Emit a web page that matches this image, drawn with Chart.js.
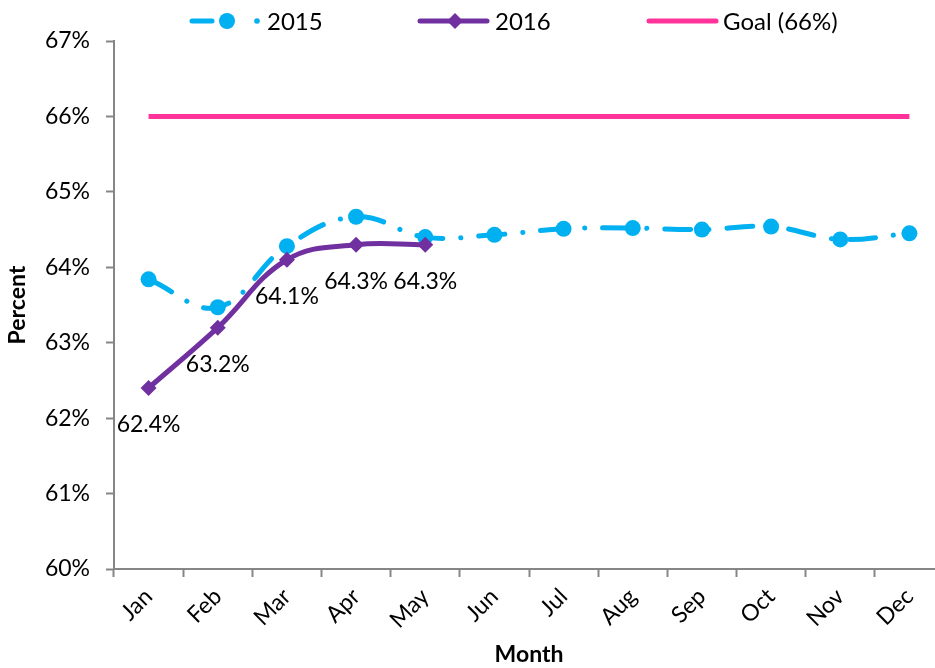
<!DOCTYPE html>
<html>
<head>
<meta charset="utf-8">
<script src="https://cdn.jsdelivr.net/npm/chart.js@4.4.1/dist/chart.umd.min.js"></script>
<style>
  body { margin: 0; background: #fff; overflow: hidden; }
  #wrap { width: 952px; height: 668px; }
</style>
</head>
<body>
<div id="wrap"><canvas id="chart" width="952" height="668"></canvas></div>
<script>
const months = ['Jan', 'Feb', 'Mar', 'Apr', 'May', 'Jun', 'Jul', 'Aug', 'Sep', 'Oct', 'Nov', 'Dec'];
const values2015 = [63.84, 63.47, 64.28, 64.67, 64.40, 64.43, 64.51, 64.52, 64.50, 64.54, 64.37, 64.45];
const values2016 = [62.4, 63.2, 64.1, 64.3, 64.3];
const goalValues = [66, 66, 66, 66, 66, 66, 66, 66, 66, 66, 66, 66];
const yTicks = [60, 61, 62, 63, 64, 65, 66, 67];

const FONT = 'Lato, "Open Sans", sans-serif';
const BLUE = '#00B0F0';
const PURPLE = '#7030A0';
const PINK = '#FF3399';
const AXIS = '#868686';

// value labels under the 2016 points
const labelPlugin = {
    id: 'labels2016',
    afterDatasetsDraw(chart) {
        const ctx = chart.ctx;
        const meta = chart.getDatasetMeta(2);
        ctx.save();
        ctx.font = '23px ' + FONT;
        ctx.fillStyle = '#000';
        ctx.textAlign = 'center';
        ctx.textBaseline = 'middle';
        meta.data.forEach((pt, i) => {
            ctx.fillText(values2016[i].toFixed(1) + '%', pt.x, pt.y + 37);
        });
        ctx.restore();
    }
};

// Excel-like legend: line sample with its marker
const legendPlugin = {
    id: 'lineLegend',
    afterDraw(chart) {
        const ctx = chart.ctx;
        const y = 21;
        ctx.save();
        ctx.lineCap = 'round';

        // 2015
        ctx.strokeStyle = BLUE;
        ctx.fillStyle = BLUE;
        ctx.lineWidth = 5;
        ctx.beginPath(); ctx.moveTo(192, y); ctx.lineTo(212, y); ctx.stroke();
        ctx.beginPath(); ctx.arc(227, y, 8, 0, Math.PI * 2); ctx.fill();
        ctx.beginPath(); ctx.arc(257, y, 2.8, 0, Math.PI * 2); ctx.fill();

        // 2016
        ctx.strokeStyle = PURPLE;
        ctx.fillStyle = PURPLE;
        ctx.lineWidth = 5;
        ctx.beginPath(); ctx.moveTo(420, y); ctx.lineTo(487, y); ctx.stroke();
        ctx.beginPath();
        ctx.moveTo(455, y - 8); ctx.lineTo(463, y); ctx.lineTo(455, y + 8); ctx.lineTo(447, y);
        ctx.closePath(); ctx.fill();

        // goal
        ctx.strokeStyle = PINK;
        ctx.beginPath(); ctx.moveTo(649, y); ctx.lineTo(716, y); ctx.stroke();

        ctx.font = '24px ' + FONT;
        ctx.fillStyle = '#000';
        ctx.textBaseline = 'middle';
        ctx.fillText('2015', 267, y + 1);
        ctx.fillText('2016', 495, y + 1);
        ctx.fillText('Goal (66%)', 723, y + 1);
        ctx.restore();
    }
};

new Chart(document.getElementById('chart'), {
    type: 'line',
    data: {
        labels: months,
        datasets: [
            {
                label: 'Goal (66%)',
                data: goalValues,
                borderColor: PINK,
                borderWidth: 5,
                pointRadius: 0,
                order: 3
            },
            {
                label: '2015',
                data: values2015,
                borderColor: BLUE,
                backgroundColor: BLUE,
                borderWidth: 5,
                borderDash: [26, 18, 0.1, 18],
                borderCapStyle: 'round',
                tension: 0.4,
                pointRadius: 8,
                pointBorderWidth: 0,
                order: 2
            },
            {
                label: '2016',
                data: values2016,
                borderColor: PURPLE,
                backgroundColor: PURPLE,
                borderWidth: 5,
                tension: 0.4,
                pointStyle: 'rectRot',
                pointRadius: 8,
                pointBorderWidth: 0,
                order: 1
            }
        ]
    },
    options: {
        responsive: false,
        animation: false,
        layout: { padding: { top: 41, right: 0, bottom: 0, left: 0 } },
        plugins: {
            legend: { display: false },
            tooltip: { enabled: false }
        },
        scales: {
            x: {
                offset: true,
                grid: { offset: true, drawOnChartArea: false, color: AXIS, tickLength: 8, tickWidth: 2 },
                border: { color: AXIS, width: 2 },
                ticks: {
                    color: '#000',
                    font: { family: FONT, size: 23 },
                    maxRotation: 45,
                    minRotation: 45,
                    padding: 6
                },
                title: {
                    display: true,
                    text: 'Month',
                    color: '#000',
                    font: { family: FONT, size: 23, weight: 'bold' },
                    padding: { top: 0, bottom: 0 }
                },
                afterFit: s => { s.height = 99; }
            },
            y: {
                min: yTicks[0],
                max: yTicks[yTicks.length - 1],
                afterBuildTicks: s => { s.ticks = yTicks.map(v => ({ value: v })); },
                grid: { drawOnChartArea: false, color: AXIS, tickLength: 8, tickWidth: 2 },
                border: { color: AXIS, width: 2 },
                ticks: {
                    color: '#000',
                    font: { family: FONT, size: 23 },
                    padding: 16,
                    callback: v => v + '%'
                },
                title: {
                    display: true,
                    text: 'Percent',
                    color: '#000',
                    font: { family: FONT, size: 23, weight: 'bold' },
                    padding: { top: 4, bottom: 0 }
                },
                afterFit: s => { s.width = 114; }
            }
        }
    },
    plugins: [labelPlugin, legendPlugin]
});
</script>
</body>
</html>
